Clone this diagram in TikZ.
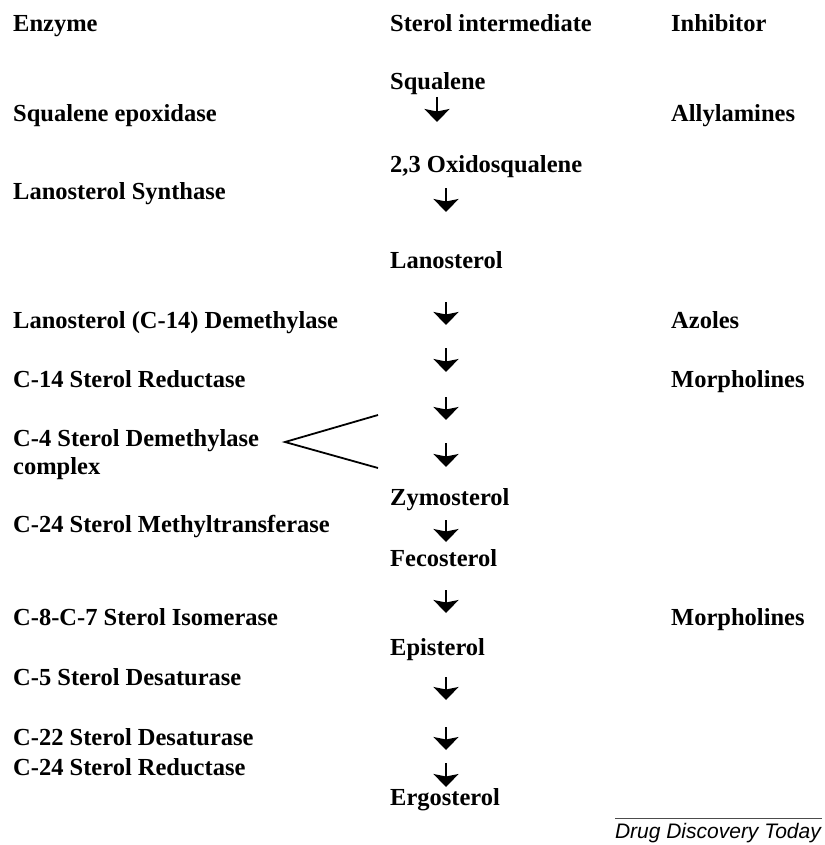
\documentclass[tikz,border=0pt]{standalone}
\usepackage{fontspec}
\setmainfont{Liberation Serif}
\setsansfont{Liberation Sans}
\usetikzlibrary{arrows.meta}
\begin{document}
\begin{tikzpicture}[x=1pt, y=-1pt]
    \tikzstyle{txt_style}=[anchor=base west, inner sep=0pt, font=\fontsize{24.5}{29}\selectfont\bfseries]
    \tikzstyle{step_arrow}=[line width=2pt, -{Stealth[length=13pt, width=25pt, inset=2.5pt]}]
    \tikzstyle{split_line}=[line width=1.8pt]
    \useasboundingbox (0,0) rectangle (824,845);

    % --- column heads ---
    \node[txt_style] (h_enz) at (13,32) {Enzyme};
    \node[txt_style] (h_ster) at (390,32) {Sterol intermediate};
    \node[txt_style] (h_inh) at (671,32) {Inhibitor};

    % --- enzymes ---
    \node[txt_style] (e1) at (13,122) {Squalene epoxidase};
    \node[txt_style] (e2) at (13,200) {Lanosterol Synthase};
    \node[txt_style] (e3) at (13,328) {Lanosterol (C-14) Demethylase};
    \node[txt_style] (e4) at (13,387) {C-14 Sterol Reductase};
    \node[txt_style] (e5) at (13,446) {C-4 Sterol Demethylase};
    \node[txt_style] (e5b) at (13,474) {complex};
    \node[txt_style] (e6) at (13,532) {C-24 Sterol Methyltransferase};
    \node[txt_style] (e7) at (13,625) {C-8-C-7 Sterol Isomerase};
    \node[txt_style] (e8) at (13,685) {C-5 Sterol Desaturase};
    \node[txt_style] (e9) at (13,745) {C-22 Sterol Desaturase};
    \node[txt_style] (e10) at (13,775) {C-24 Sterol Reductase};

    % --- sterols ---
    \node[txt_style] (s_squa) at (390,90) {Squalene};
    \node[txt_style] (s_oxi) at (390,172) {2,3 Oxidosqualene};
    \node[txt_style] (s_lano) at (390,268) {Lanosterol};
    \node[txt_style] (s_zymo) at (390,505) {Zymosterol};
    \node[txt_style] (s_feco) at (390,566) {Fecosterol};
    \node[txt_style] (s_epi) at (390,655) {Episterol};
    \node[txt_style] (s_ergo) at (390,805) {Ergosterol};

    % --- inhibitors ---
    \node[txt_style] (i1) at (671,122) {Allylamines};
    \node[txt_style] (i2) at (671,328) {Azoles};
    \node[txt_style] (i3) at (671,387) {Morpholines};
    \node[txt_style] (i4) at (671,625) {Morpholines};

    % --- step arrows ---
    \coordinate (a1s) at (437,97);  \coordinate (a1e) at (437,122);
    \draw[step_arrow] (a1s) -- (a1e);
    \foreach \n/\ys/\ye in {2/188/212, 3/302/325, 4/348/372, 5/397/420, 6/443/467,
                            7/520/542, 8/590/613, 9/677/700, 10/727/750, 11/763/787}{
      \coordinate (a\n s) at (446,\ys);
      \coordinate (a\n e) at (446,\ye);
      \draw[step_arrow] (a\n s) -- (a\n e);
    }

    % --- C-4 complex acts on two steps ---
    \coordinate (vtip) at (285,442);
    \coordinate (vup) at (378,415);
    \coordinate (vlow) at (378,468);
    \draw[split_line] (vup) -- (vtip) -- (vlow);

    % --- source ---
    \coordinate (rule_l) at (615,818);
    \coordinate (rule_r) at (822,818);
    \draw[line width=1pt, black!70] (rule_l) -- (rule_r);
    \node[anchor=base east, inner sep=0pt, font=\fontsize{21}{24}\selectfont\sffamily\itshape] (src) at (821,838) {Drug Discovery Today};
\end{tikzpicture}
\end{document}
